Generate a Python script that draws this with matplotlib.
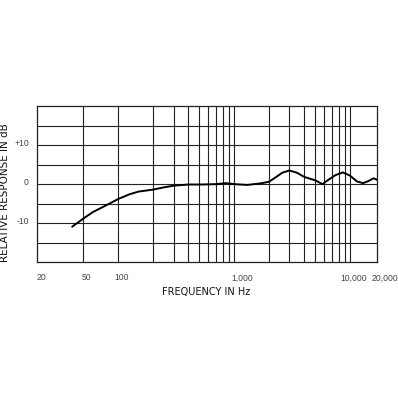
import numpy as np
import matplotlib
matplotlib.use("Agg")
import matplotlib.pyplot as plt
import matplotlib.transforms as mtrans

# frequency response
freq = [40, 50, 60, 80, 100, 125, 150, 200, 250, 300, 400, 500, 600, 700, 850,
        1000, 1300, 1700, 2000, 2300, 2600, 3000, 3500, 4000, 4500, 5000, 5800, 6500,
        7500, 8700, 10000, 11500, 13000, 14500, 16000, 17200]
resp = [-10.9, -8.8, -7.2, -5.3, -3.8, -2.6, -1.9, -1.4, -0.8, -0.4, -0.1, -0.1,
        -0.05, 0.0, 0.25, 0.0, -0.2, 0.2, 0.6, 1.8, 2.9, 3.5, 2.9, 1.9, 1.4, 1.0, 0.0,
        1.1, 2.3, 3.0, 2.2, 0.7, 0.25, 0.8, 1.5, 1.1]

x_grid = [50, 100, 200, 300, 400, 500, 600, 700, 800, 900,
          1000, 2000, 3000, 4000, 5000, 6000, 7000, 8000, 9000, 10000]
x_ticks = [20, 50, 100, 1000, 10000, 17200]
x_labels = ['20', '50', '100', '1,000', '10,000', '20,000']
y_ticks = [10, 0, -10]
y_labels = ['+10', '0', '-10']
y_grid = [-15, -10, -5, 0, 5, 10, 15]

plt.rcParams['font.family'] = 'DejaVu Sans'

fig = plt.figure(figsize=(3.98, 3.98), dpi=100)
ax = fig.add_axes([0.0937, 0.341, 0.854, 0.3927])

ax.set_xscale('log')
ax.set_xlim(20, 17200)
ax.set_ylim(-20, 20)

for g in x_grid:
    ax.axvline(g, color='#222222', lw=0.8, zorder=1)
for g in y_grid:
    ax.axhline(g, color='#222222', lw=0.8, zorder=1)

ax.plot(freq, resp, color='black', lw=1.4, zorder=3, solid_capstyle='round')

for s in ax.spines.values():
    s.set_color('#222222')
    s.set_linewidth(0.9)

ax.xaxis.set_minor_locator(matplotlib.ticker.NullLocator())
ax.set_xticks(x_ticks)
ax.set_xticklabels(x_labels, fontsize=6.2, color='#444444', family='Liberation Sans')
ax.set_yticks(y_ticks)
ax.set_yticklabels(y_labels, fontsize=6.2, color='#444444', family='Liberation Sans')
ax.tick_params(axis='both', length=0)
ax.tick_params(axis='x', pad=8)
ax.tick_params(axis='y', pad=6)

# labels sit a little right of / above their grid lines (hand-set artwork)
x_shift = [4.4, 2.7, 3.4, 8.3, 3.3, 7.7]
for lab, dx in zip(ax.get_xticklabels(), x_shift):
    lab.set_transform(lab.get_transform() + mtrans.ScaledTranslation(dx / 100, 0, fig.dpi_scale_trans))
for lab in ax.get_yticklabels():
    lab.set_transform(lab.get_transform() + mtrans.ScaledTranslation(0, 3 / 100, fig.dpi_scale_trans))

fig.text(206 / 398, 1 - 292.5 / 398, 'FREQUENCY IN Hz', fontsize=7, ha='center', va='center', color='#111111')
fig.text(5 / 398, 1 - 193 / 398, 'RELATIVE RESPONSE IN dB', fontsize=7.5, rotation=90,
         ha='center', va='center', color='#111111')

fig.savefig('out.png', dpi=100, facecolor='white')
